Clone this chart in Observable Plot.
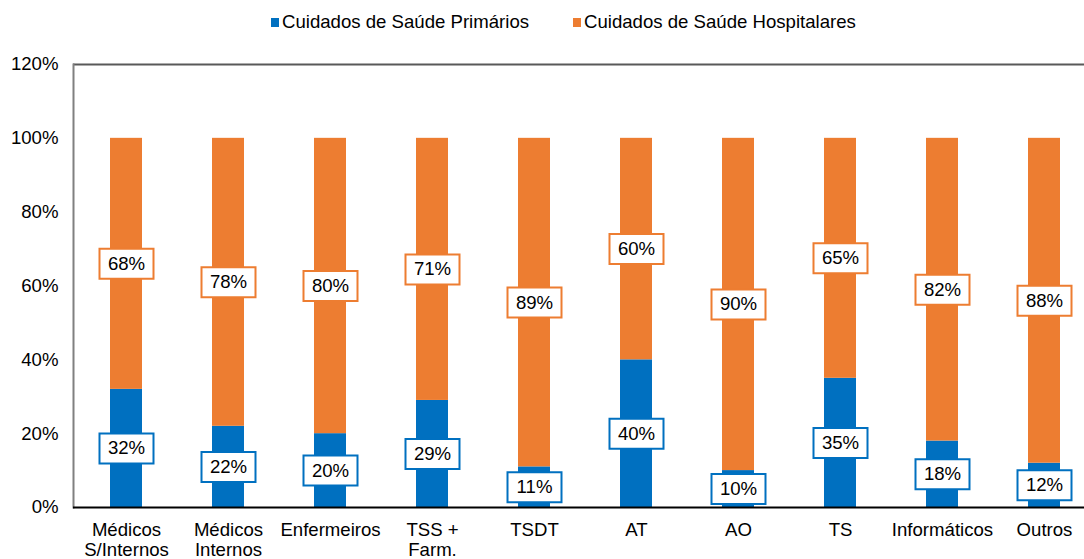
<!DOCTYPE html>
<html>
<head>
<meta charset="utf-8">
<script src="https://cdn.jsdelivr.net/npm/d3@7"></script>
<script src="https://cdn.jsdelivr.net/npm/@observablehq/plot@0.6"></script>
<style>
  html, body { margin: 0; padding: 0; background: #fff; }
  body { width: 1084px; height: 559px; overflow: hidden; font-family: "Liberation Sans", Arial, sans-serif; }
  #legend { height: 44px; display: flex; align-items: center; padding-left: 271px; box-sizing: border-box; font-size: 18.6px; color: #000; }
  #legend .item { display: flex; align-items: center; margin-right: 44px; }
  #legend .sw { width: 8px; height: 9px; margin-right: 3px; }
  #chart svg { display: block; }
</style>
</head>
<body>
<div id="legend"></div>
<div id="chart"></div>
<script>
const categories = ["Médicos\nS/Internos", "Médicos\nInternos", "Enfermeiros", "TSS +\nFarm.", "TSDT", "AT", "AO", "TS", "Informáticos", "Outros"];
const primarios = [32, 22, 20, 29, 11, 40, 10, 35, 18, 12];
const hospitalares = [68, 78, 80, 71, 89, 60, 90, 65, 82, 88];
const seriesNames = ["Cuidados de Saúde Primários", "Cuidados de Saúde Hospitalares"];
const seriesColors = ["#0070C0", "#ED7D31"];
const yTicks = [0, 20, 40, 60, 80, 100, 120];

const rows = [];
categories.forEach((c, i) => {
  rows.push({cat: c, series: seriesNames[0], value: primarios[i], mid: primarios[i] / 2});
  rows.push({cat: c, series: seriesNames[1], value: hospitalares[i], mid: primarios[i] + hospitalares[i] / 2});
});

// legend
const legend = document.getElementById("legend");
seriesNames.forEach((s, i) => {
  const it = document.createElement("div");
  it.className = "item";
  const sw = document.createElement("span");
  sw.className = "sw";
  sw.style.background = seriesColors[i];
  const t = document.createElement("span");
  t.textContent = s;
  it.appendChild(sw); it.appendChild(t);
  legend.appendChild(it);
});

const boxSymbol = { draw(ctx) { ctx.rect(-27, -15, 54, 30); } };
const FS = 18.6;

const chart = Plot.plot({
  width: 1084,
  height: 515,
  marginTop: 20,
  marginBottom: 52,
  marginLeft: 73,
  marginRight: 0,
  style: { fontFamily: "\"Liberation Sans\", Arial, sans-serif", fontSize: FS + "px", color: "#000", background: "#fff" },
  x: { domain: categories, range: [73, 1097], paddingInner: 0.6875, paddingOuter: 0.34375, align: 0.5 },
  y: { domain: [0, 120] },
  color: { domain: seriesNames, range: seriesColors },
  marks: [
    Plot.barY(rows, Plot.stackY({x: "cat", y: "value", fill: "series", order: seriesNames})),
    Plot.ruleY([120], {stroke: "#595959", strokeWidth: 2}),
    Plot.frame({anchor: "left", stroke: "#808080", strokeWidth: 2}),
    Plot.ruleY([0], {stroke: "#000", strokeWidth: 2}),
    Plot.axisY({ticks: yTicks, tickSize: 0, tickPadding: 15, tickFormat: d => d + "%", label: null, fontSize: FS}),
    Plot.axisX({tickSize: 0, tickPadding: 14, label: null, fontSize: FS, lineHeight: 1.07}),
    Plot.dot(rows, {x: "cat", y: "mid", symbol: boxSymbol, fill: "#fff", stroke: "series", strokeWidth: 2}),
    Plot.text(rows, {x: "cat", y: "mid", text: d => d.value + "%", fontSize: FS, fill: "#000"})
  ]
});
document.getElementById("chart").appendChild(chart);
</script>
</body>
</html>
